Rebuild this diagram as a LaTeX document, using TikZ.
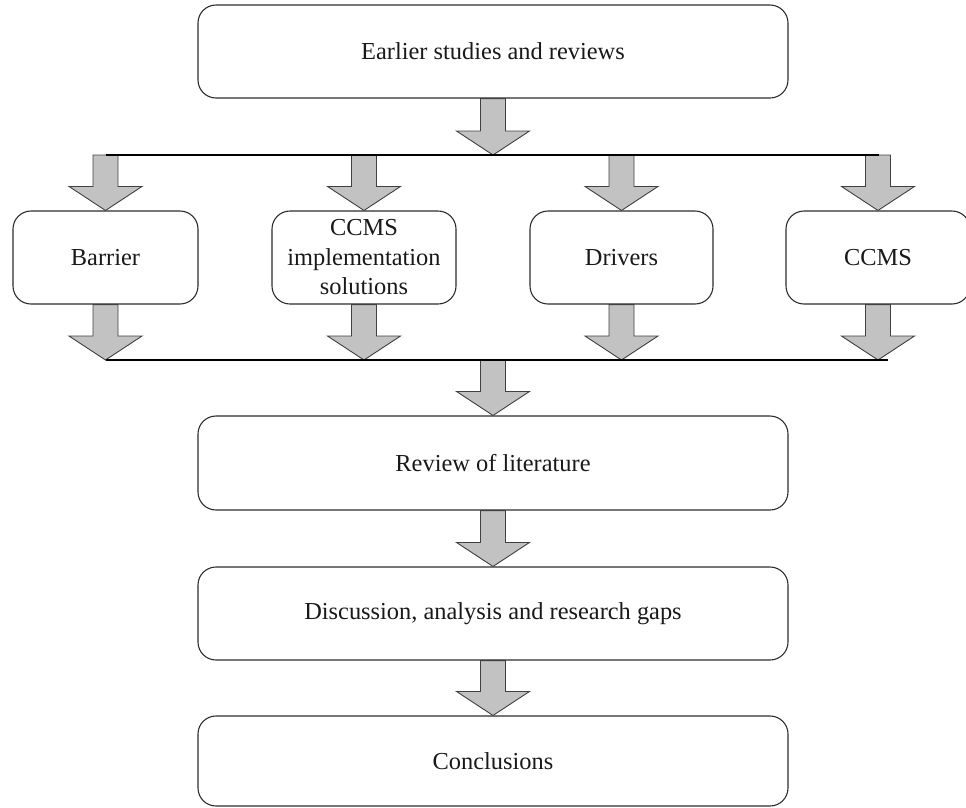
\documentclass[tikz,border=0pt]{standalone}
\usepackage{fontspec}
\setmainfont{Liberation Serif}
\usetikzlibrary{calc}

\definecolor{arrowfill}{RGB}{194,194,194}
\definecolor{arrowline}{RGB}{64,64,64}
\definecolor{boxline}{RGB}{45,45,45}
\definecolor{textcol}{RGB}{25,25,25}

\tikzset{
  stagebox/.style={draw=boxline, line width=1.1pt, rounded corners=18pt,
    fill=white, fill opacity=0, text opacity=1, text=textcol,
    align=center, inner sep=0pt, minimum height=93pt,
    font=\fontsize{24.4}{29.5}\selectfont},
  widebox/.style={stagebox, minimum width=590pt},
  smallbox/.style={stagebox, minimum width=184pt},
  blockarrow/.style={draw=arrowline, fill=arrowfill, line width=0.9pt, line join=miter},
  busline/.style={draw=black, line width=1.8pt}
}

% Thick downward block arrow from point #1 to point #2 (tip at #2)
\newcommand\flowarrow[2]{%
  \path[blockarrow] let \p1=(#1), \p2=(#2) in
    (\x1-12.5pt,\y1) -- (\x1+12.5pt,\y1) -- (\x1+12.5pt,\y2+24pt)
    -- (\x1+36.5pt,\y2+24pt) -- (\x1,\y2) -- (\x1-36.5pt,\y2+24pt)
    -- (\x1-12.5pt,\y2+24pt) -- cycle;}

\begin{document}
\begin{tikzpicture}[x=1pt,y=-1pt]
  \useasboundingbox (0,0) rectangle (966,807);

  % stages
  \node[widebox] (earlier) at (493,51.5) {Earlier studies and reviews};
  \node[smallbox, minimum width=185pt] (barrier) at (105.5,257.5) {Barrier};
  \node[smallbox] (solutions) at (364,257.5) {CCMS\\implementation\\solutions};
  \node[smallbox, minimum width=183pt] (drivers) at (621.5,257.5) {Drivers};
  \node[smallbox] (ccms) at (878,257.5) {CCMS};
  \node[widebox, minimum height=94pt] (review) at (493,463) {Review of literature};
  \node[widebox] (discussion) at (493,613.5) {Discussion, analysis and research gaps};
  \node[widebox, minimum height=90pt] (conclusions) at (493,761) {Conclusions};

  % distribution and collection bars
  \coordinate (splitW) at (106,155);
  \coordinate (splitE) at (879,155);
  \coordinate (joinW) at (106,360);
  \coordinate (joinE) at (888,360);

  % arrows into the split bar and down to the four topics
  \flowarrow{earlier.south}{earlier.south |- splitW}
  \flowarrow{barrier.north |- splitW}{barrier.north}
  \flowarrow{solutions.north |- splitW}{solutions.north}
  \flowarrow{drivers.north |- splitW}{drivers.north}
  \flowarrow{ccms.north |- splitW}{ccms.north}

  % arrows from the topics to the join bar
  \flowarrow{barrier.south}{barrier.south |- joinW}
  \flowarrow{solutions.south}{solutions.south |- joinW}
  \flowarrow{drivers.south}{drivers.south |- joinW}
  \flowarrow{ccms.south}{ccms.south |- joinW}

  % main sequence
  \flowarrow{review.north |- joinW}{review.north}
  \flowarrow{review.south}{discussion.north}
  \flowarrow{discussion.south}{conclusions.north}

  \draw[busline] (splitW) -- (splitE);
  \draw[busline] (joinW) -- (joinE);
\end{tikzpicture}
\end{document}
